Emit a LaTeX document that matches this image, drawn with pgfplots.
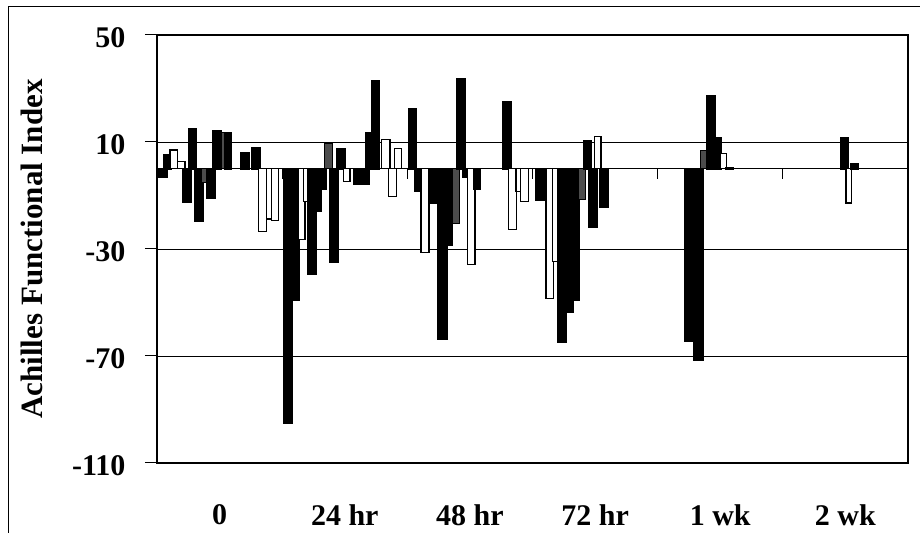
\documentclass[border=0pt]{standalone}
\usepackage{fontspec}
\setmainfont{Liberation Serif}
\usepackage{pgfplots}
\pgfplotsset{compat=1.18}

% one bar = one interval [left,right] at height value
\newcommand\kbar[3]{\addplot[ybar interval, fill=black, draw=black, line width=0.4pt] coordinates {(#1,#3) (#2,#3)};}
\newcommand\wbar[3]{\addplot[ybar interval, fill=white, draw=black, line width=1.1pt] coordinates {(#1,#3) (#2,#3)};}
\newcommand\gbar[3]{\addplot[ybar interval, fill=black!70, draw=black, line width=0.8pt] coordinates {(#1,#3) (#2,#3)};}

\newcommand\lblfont{\fontsize{30}{35}\selectfont\bfseries}
\newcommand\ylblfont{\fontsize{31}{36}\selectfont\bfseries}

\begin{document}
\begin{tikzpicture}
\useasboundingbox (-157pt,-70pt) rectangle (765pt,463pt);
% outer frame
\draw[line width=1pt] (-148pt,-75pt) -- (-148pt,456pt) -- (763pt,456pt);
\begin{axis}[
  scale only axis,
  width=751pt, height=428pt,
  at={(0,0)}, anchor=south west,
  xmin=0, xmax=751,
  ymin=-110, ymax=50,
  ytick={-110,-70,-30,10,50},
  yticklabels={-110,-70,-30,10,50},
  xtick={62.6,187.8,312.9,438.1,563.2,688.4},
  xticklabels={0,24 hr,48 hr,72 hr,1 wk,2 wk},
  xtick style={draw=none},
  ytick style={black, line width=1pt},
  tick align=outside,
  ytick pos=left,
  major tick length=12pt,
  ymajorgrids,
  grid style={black, line width=0.9pt},
  axis line style={black, line width=1.3pt},
  yticklabel style={font=\lblfont, xshift=-16pt, yshift=-3pt},
  xticklabel style={font=\lblfont, yshift=-26pt},
  ylabel={Achilles Functional Index},
  ylabel style={font=\ylblfont, at={(axis description cs:-0.1664,0.5)}, anchor=center},
]
% 0
\kbar{0.7}{10.7}{-3}
\kbar{6.3}{14}{5.5}
\wbar{13}{20.7}{7}
\wbar{20.7}{28}{2.6}
\kbar{25.3}{34}{-12.6}
\kbar{31.3}{39.7}{15.2}
\kbar{37.3}{46.3}{-19.7}
\gbar{44.7}{49.7}{-5.1}
\kbar{49.7}{58}{-10.9}
\kbar{55.3}{64.7}{14.4}
\gbar{64}{68}{13.6}
\kbar{67.3}{74}{13.6}
\kbar{83}{92}{6.1}
\kbar{94.7}{103}{8}
\wbar{101.3}{109.7}{-23.5}
\wbar{109.7}{114.7}{-18.8}
\wbar{114.7}{121.3}{-19.2}
% 24 hr
\kbar{126.3}{135.7}{-95.3}
\kbar{134.7}{142}{-49}
\wbar{141.3}{148}{-26.6}
\wbar{146.3}{151.3}{-12.2}
\kbar{150.3}{159.7}{-39.3}
\kbar{159}{164}{-15.7}
\kbar{163}{169.7}{-7.6}
\gbar{167}{175.7}{9.5}
\kbar{172.3}{181.3}{-35}
\kbar{179}{188}{7.7}
\wbar{186.3}{193}{-4.8}
\kbar{196.3}{212}{-5.8}
\kbar{208.7}{216.3}{13.6}
\kbar{214.7}{222}{33.1}
\wbar{224.7}{233}{11.1}
\wbar{231.3}{239.7}{-10.3}
\wbar{237.3}{244.7}{7.7}
% 48 hr
\kbar{251.3}{259}{22.6}
\kbar{257.3}{263}{-8.5}
\wbar{264}{272}{-31.2}
\kbar{273}{281.3}{-12.8}
\kbar{280}{290}{-63.6}
\kbar{289}{295.7}{-28.7}
\gbar{295.7}{302.3}{-20.3}
\kbar{299.7}{308}{33.7}
\kbar{305.7}{311.3}{-3.2}
\wbar{310.3}{318}{-35.8}
\kbar{316.3}{323.7}{-7.7}
\kbar{345.7}{354}{25.4}
\wbar{351.3}{359.7}{-22.8}
\wbar{359}{363.7}{-8.5}
\wbar{363.7}{371.3}{-12.2}
% 72 hr
\kbar{378}{389.7}{-11.9}
\wbar{389}{396.3}{-48.4}
\wbar{395.3}{401.3}{-34.6}
\kbar{400.7}{409.7}{-64.8}
\kbar{408.7}{416.3}{-53.6}
\kbar{415.3}{422}{-49.3}
\gbar{421.3}{428}{-11.3}
\kbar{426.3}{434}{10.7}
\kbar{431.3}{439.7}{-21.9}
\wbar{437.3}{444}{11.9}
\kbar{442.3}{450.7}{-14.4}
% 1 wk
\kbar{527.3}{536.3}{-64.4}
\kbar{536.3}{546.3}{-71.4}
\gbar{543}{549}{7}
\kbar{549}{558}{27.6}
\kbar{557}{563.7}{11.9}
\wbar{563}{569.7}{5.7}
\kbar{568}{576}{0.6}
% 2 wk
\kbar{683}{691.3}{11.8}
\wbar{689}{694.7}{-12.8}
\kbar{693}{701.3}{2.2}
% category axis at zero with its boundary ticks
\draw[black, line width=1.2pt] (axis cs:0,0) -- (axis cs:751,0);
\draw[black, line width=0.9pt] (axis cs:125.2,0) -- (axis cs:125.2,-3.8);
\draw[black, line width=0.9pt] (axis cs:250.3,0) -- (axis cs:250.3,-3.8);
\draw[black, line width=0.9pt] (axis cs:375.5,0) -- (axis cs:375.5,-3.8);
\draw[black, line width=0.9pt] (axis cs:500.7,0) -- (axis cs:500.7,-3.8);
\draw[black, line width=0.9pt] (axis cs:625.8,0) -- (axis cs:625.8,-3.8);
\end{axis}
\end{tikzpicture}
\end{document}
